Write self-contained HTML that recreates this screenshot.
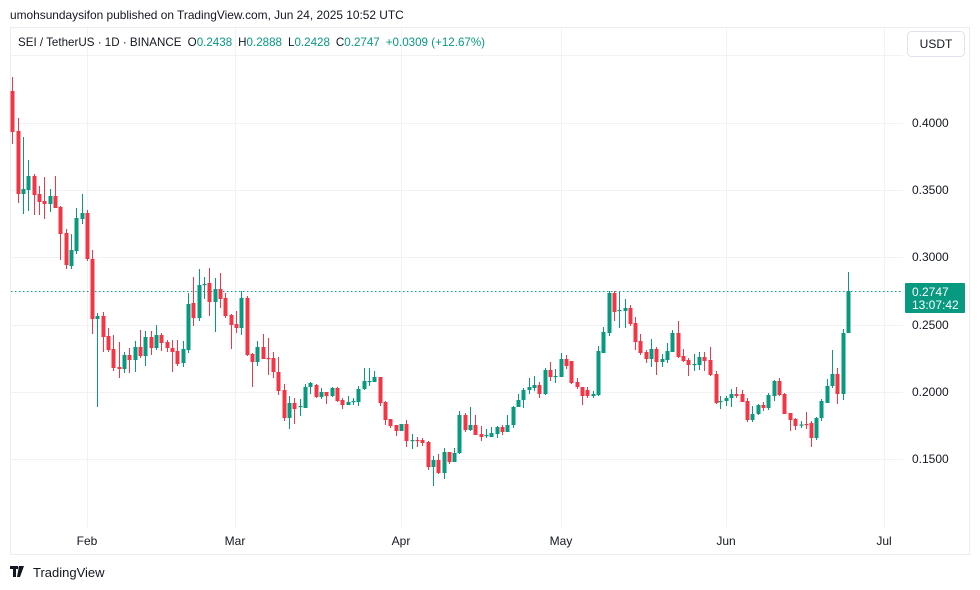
<!DOCTYPE html>
<html><head><meta charset="utf-8">
<style>
html,body{margin:0;padding:0;background:#fff;}
body{width:980px;height:590px;overflow:hidden;position:relative;font-family:"Liberation Sans",sans-serif;color:#131722;}
svg{position:absolute;left:0;top:0;}
</style></head><body>
<svg id="s" width="980" height="590" xmlns="http://www.w3.org/2000/svg" font-family="Liberation Sans, sans-serif">
<text x="10" y="19" font-size="11.9" fill="#131722">umohsundaysifon published on TradingView.com, Jun 24, 2025 10:52 UTC</text>
<rect x="10.5" y="27.5" width="959" height="527" fill="none" stroke="#ebedf1"/>
<g stroke="#f0f2f5" stroke-width="1">
<line x1="11" y1="55.5" x2="903" y2="55.5"/>
<line x1="11" y1="123.5" x2="903" y2="123.5"/>
<line x1="11" y1="190.5" x2="903" y2="190.5"/>
<line x1="11" y1="257.5" x2="903" y2="257.5"/>
<line x1="11" y1="325.5" x2="903" y2="325.5"/>
<line x1="11" y1="392.5" x2="903" y2="392.5"/>
<line x1="11" y1="459.5" x2="903" y2="459.5"/>
<line x1="87.5" y1="28" x2="87.5" y2="527"/>
<line x1="235.5" y1="28" x2="235.5" y2="527"/>
<line x1="401.5" y1="28" x2="401.5" y2="527"/>
<line x1="561.5" y1="28" x2="561.5" y2="527"/>
<line x1="726.5" y1="28" x2="726.5" y2="527"/>
<line x1="884.5" y1="28" x2="884.5" y2="527"/>
</g>
<text x="18" y="46" font-size="11.6" fill="#131722">SEI / TetherUS · 1D · BINANCE <tspan dx="3">O</tspan><tspan fill="#089981">0.2438</tspan><tspan dx="6">H</tspan><tspan fill="#089981">0.2888</tspan><tspan dx="6">L</tspan><tspan fill="#089981">0.2428</tspan><tspan dx="6">C</tspan><tspan fill="#089981">0.2747</tspan><tspan dx="6" fill="#089981">+0.0309 (+12.67%)</tspan></text>
<rect x="907.5" y="31.5" width="57" height="25" rx="4" fill="#fff" stroke="#e0e3eb"/>
<text x="936" y="48" font-size="12" text-anchor="middle" fill="#131722">USDT</text>
<g font-size="12" fill="#131722">
<text x="912" y="127">0.4000</text>
<text x="912" y="194">0.3500</text>
<text x="912" y="261">0.3000</text>
<text x="912" y="329">0.2500</text>
<text x="912" y="396">0.2000</text>
<text x="912" y="463">0.1500</text>
</g>
<g font-size="12" fill="#131722" text-anchor="middle">
<text x="87" y="545">Feb</text><text x="235" y="545">Mar</text><text x="401" y="545">Apr</text>
<text x="561" y="545">May</text><text x="726" y="545">Jun</text><text x="884" y="545">Jul</text>
</g>
<line x1="11" y1="291.5" x2="903" y2="291.5" stroke="#089981" stroke-dasharray="1.5,2.5"/>
<g id="c"></g>
<rect x="905" y="283" width="60" height="30" rx="1" fill="#089981"/>
<text x="912" y="296" font-size="12" fill="#fff">0.2747</text>
<text x="912" y="309" font-size="12" fill="#fff">13:07:42</text>
<g fill="#131722"><rect x="10" y="566" width="8" height="3"/><rect x="13" y="566" width="3" height="11"/><path d="M19 566h5l-4 11h-3z"/><circle cx="20" cy="568" r="1.6"/></g>
<text x="33" y="577" font-size="13" fill="#131722">TradingView</text>
</svg>
<script>
var d=[
[12,91,132,77,144],[18,131,194,118,203],[23,194,189,137,214],[28,190,176,160,211],[34,176,195,174,215],[39,194,202,186,215],[44,201,204,177,219],[50,204,196,189,212],[55,196,208,176,208],[60,207,234,206,260],[66,233,265,229,269],[71,266,250,234,269],[76,251,218,208,254],[82,219,213,194,224],[87,213,259,210,261],[92,259,319,250,334],[97,319,316,313,407],[103,316,337,312,352],[108,336,350,328,352],[113,349,368,335,371],[119,367,369,342,378],[124,369,355,352,373],[129,355,360,348,373],[135,360,347,341,372],[140,347,356,330,358],[145,356,337,331,366],[151,337,348,331,355],[156,348,335,325,350],[161,335,343,333,351],[167,342,348,340,352],[172,348,352,340,372],[177,351,364,340,366],
[183,363,349,341,367],[188,350,304,293,353],[193,303,318,277,326],[199,318,285,269,321],[204,285,284,277,299],[209,283,302,268,316],[215,302,289,278,332],[220,289,299,273,308],[225,298,316,293,318],[231,315,325,314,349],[236,324,328,311,333],[241,328,298,291,335],[247,298,355,296,356],[252,354,362,353,387],[257,362,347,341,366],[263,347,359,334,359],[268,358,358.5,338,375],[273,358,372,352,378],[278,372,391,357,395],[284,390,418,384,421],[289,418,403,396,429],[294,403,409,398,424],[300,407,406,399,416],[305,408,387,384,408],[310,387,383,382,394],[316,385,397,384,398],[321,397,392,388,399],[326,392,396,392,404],[332,396,388,387,397],[337,388,401,387,402],[342,400,405,398,409],[348,405,402,396,405],[353,402,401,398,405],[358,402,389,386,406],[364,389,381,368,390],[369,382,381,368,386],[374,382,377,371,382],[380,377,403,377,406],[385,402,420,401,425],[390,419,426,419,428],[396,425,431,425,436],[401,431,424,424,431],[406,424,441,420,447],[412,441,440,434,449],[417,440,441,437,447],[422,440,443,438,446],[428,442,467,441,470],[433,467,460,456,486],[438,460,473,454,474],[444,473,452,448,479],[449,452,462,452,464],[454,462,453,448,462],[459,453,415,411,454],[465,415,430,413,432],[470,430,425,407,431],[475,425,435,415,435],
[481,434,437,426,441],[486,436,435,429,438],[491,437,433,427,437],[497,434,427,426,438],[502,427,432,425,435],[507,432,425,415,432],[513,425,407,406,428],[518,407,400,394,407],[523,400,390,388,408],[529,390,387,378,394],[534,388,385,376,391],[539,385,394,382,398],[545,394,370,368,395],[550,370,377,362,381],[555,377,376,369,383],[561,377,359,353,377],[566,359,366,355,369],[571,361,383,361,384],[577,382,387,378,389],[582,387,396,387,405],[587,390,396,387,398],[593,396,394,391,398],[598,395,351,346,396],[603,353,332,327,353],[609,333,293,291,336],[614,293,312,291,321],[619,311,310,291,328],[625,311,308,299,328],[630,308,324,305,326],[635,323,342,317,350],[640,341,353,334,355],[646,352,359,350,363],[651,359,349,339,367],[656,349,362,347,375],[662,362,359,354,367],[667,360,351,343,363],[672,352,333,330,352],[678,333,357,321,358],[683,356,361,349,362],[688,360,365,358,376],[694,364.5,364,354,371],[699,365,357,352,370],[704,357,361,352,371],[710,360,375,347,376],[716,374,403,371,404],[720,402,401,396,409],[726,401,398,396,406],[731,398,394,389,407],[736,394,396,387,398],[742,394,402,390,402],[747,401,420,398,422],[752,420,414,406,422],[758,414,405,404,415],[763,405,408,402,411],[768,408,395,393,410],[774,396,381,380,401],[779,381,395,378,396],[784,394,414,393,414],[790,413,420,413,431],[795,419,426,418,430],
[801,425,424.5,421,428],[806,424,425,412,429],[811,423,438,421,447],[816,438,418,417,440],[821,418,401,399,421],[827,403,386,379,403],[832,386,374,350,388],[837,374,394,368,404],[843,394,333,329,400],[848,333,291,272,333]
];
var g=document.getElementById('c'),h='';
d.forEach(function(c){var x=c[0],o=c[1],cl=c[2],hi=c[3],lo=c[4];var up=cl<=o;var col=up?'#089981':'#f23645';
var t=Math.min(o,cl),b=Math.max(o,cl);if(b-t<1.2){b=t+1.2;}
h+='<line x1="'+(x+0.5)+'" y1="'+hi+'" x2="'+(x+0.5)+'" y2="'+lo+'" stroke="'+col+'" stroke-width="1"/>';
h+='<rect x="'+(x-1.5)+'" y="'+t+'" width="4" height="'+(b-t)+'" fill="'+col+'"/>';});
g.innerHTML=h;
</script>
</body></html>
